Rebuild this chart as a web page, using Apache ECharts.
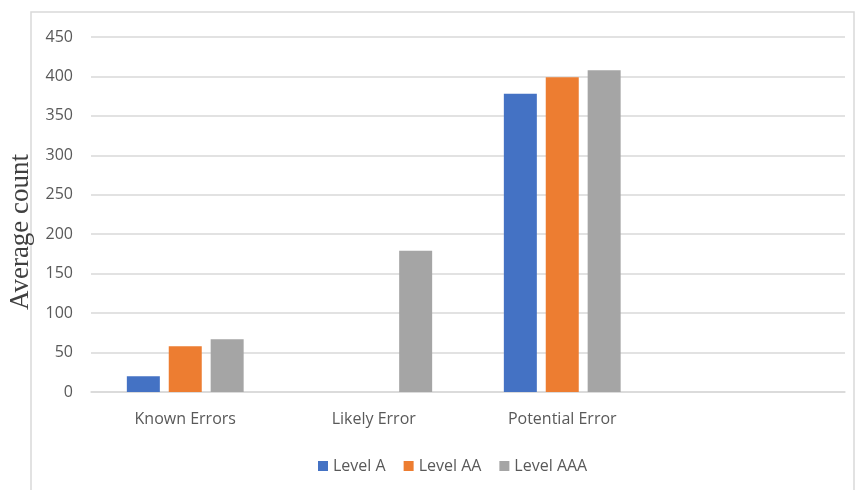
<!DOCTYPE html>
<html><head><meta charset="utf-8">
<script src="https://cdn.jsdelivr.net/npm/echarts@6/dist/echarts.min.js"></script>
<style>html,body{margin:0;padding:0;background:#fff}#c{width:856px;height:490px}</style>
</head><body><div id="c"></div>
<script>
const categories = ['Known Errors', 'Likely Error', 'Potential Error', ''];
const levelA = [20, null, 378, null];
const levelAA = [58, null, 399, null];
const levelAAA = [67, 179, 408, null];
const seriesNames = ['Level A', 'Level AA', 'Level AAA'];
const colors = ['#4472C4', '#ED7D31', '#A5A5A5'];
const yTitle = 'Average count';

const chart = echarts.init(document.getElementById('c'));
const font = '"Open Sans", "Liberation Sans", sans-serif';
const mk = (name, data, color) => ({
  name, type: 'bar', data, barWidth: 33, barGap: '27%',
  itemStyle: { color }
});
chart.setOption({
  animation: false,
  graphic: [{
    type: 'rect', shape: { x: 31, y: 12, width: 823, height: 490 },
    style: { fill: 'none', stroke: '#D9D9D9', lineWidth: 1.5 }, silent: true
  }, {
    type: 'text', x: 21, y: 232, rotation: Math.PI / 2,
    style: {
      text: yTitle, fill: '#404040', fontSize: 27,
      fontFamily: '"Liberation Serif", "DejaVu Serif", serif',
      align: 'center', verticalAlign: 'middle'
    }, silent: true
  }],
  grid: { left: 91, right: 11, top: 37, bottom: 98 },
  legend: {
    top: 453, left: 313, itemWidth: 10, itemHeight: 10, itemGap: 18,
    icon: 'rect',
    textStyle: { color: '#595959', fontSize: 16, fontFamily: font },
    data: seriesNames
  },
  xAxis: {
    type: 'category', data: categories,
    axisLine: { lineStyle: { color: '#D9D9D9', width: 1.5 } },
    axisTick: { show: false },
    axisLabel: { color: '#595959', fontSize: 16, fontFamily: font, margin: 19 }
  },
  yAxis: {
    type: 'value', min: 0, max: 450, interval: 50,
    axisLine: { show: false }, axisTick: { show: false },
    axisLabel: { color: '#595959', fontSize: 16, fontFamily: font, margin: 18 },
    splitLine: { lineStyle: { color: '#D9D9D9', width: 1.5 } }
  },
  series: [
    mk(seriesNames[0], levelA, colors[0]),
    mk(seriesNames[1], levelAA, colors[1]),
    mk(seriesNames[2], levelAAA, colors[2])
  ]
});
</script></body></html>
